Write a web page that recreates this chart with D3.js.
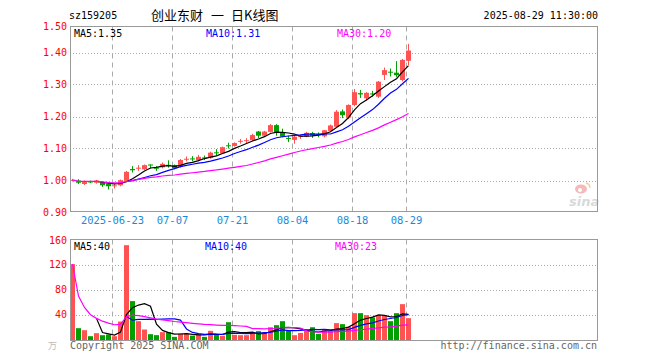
<!DOCTYPE html>
<html><head><meta charset="utf-8">
<script src="https://cdn.jsdelivr.net/npm/d3@7"></script>
<style>body{margin:0;background:#fff}svg{display:block}</style>
</head><body><svg id="c" width="660" height="360"></svg>
<script>
// ---------- data ----------
const dates = ["2025-06-12","2025-06-13","2025-06-16","2025-06-17","2025-06-18","2025-06-19","2025-06-20",
"2025-06-23","2025-06-24","2025-06-25","2025-06-26","2025-06-27","2025-06-30","2025-07-01","2025-07-02",
"2025-07-03","2025-07-04","2025-07-07","2025-07-08","2025-07-09","2025-07-10","2025-07-11","2025-07-14",
"2025-07-15","2025-07-16","2025-07-17","2025-07-18","2025-07-21","2025-07-22","2025-07-23","2025-07-24",
"2025-07-25","2025-07-28","2025-07-29","2025-07-30","2025-07-31","2025-08-01","2025-08-04","2025-08-05",
"2025-08-06","2025-08-07","2025-08-08","2025-08-11","2025-08-12","2025-08-13","2025-08-14","2025-08-15",
"2025-08-18","2025-08-19","2025-08-20","2025-08-21","2025-08-22","2025-08-25","2025-08-26","2025-08-27",
"2025-08-28","2025-08-29"];
const open  = [1.000,1.000,0.989,0.997,0.993,0.994,0.990,0.983,0.985,0.999,1.036,1.037,1.035,1.050,1.040,1.041,
1.049,1.048,1.043,1.066,1.069,1.064,1.072,1.071,1.088,1.085,1.110,1.108,1.122,1.124,1.126,1.153,1.140,1.152,
1.173,1.151,1.133,1.127,1.136,1.137,1.148,1.145,1.138,1.155,1.168,1.216,1.197,1.236,1.273,1.257,1.272,1.262,
1.330,1.340,1.337,1.314,1.374];
const high  = [1.005,1.004,1.000,1.000,1.002,0.997,0.995,0.990,1.003,1.030,1.045,1.048,1.050,1.050,1.045,1.056,
1.063,1.050,1.067,1.075,1.076,1.080,1.078,1.090,1.098,1.106,1.118,1.119,1.130,1.132,1.146,1.155,1.155,1.176,
1.176,1.162,1.140,1.139,1.143,1.152,1.152,1.150,1.158,1.175,1.220,1.222,1.238,1.286,1.283,1.276,1.280,1.311,
1.353,1.350,1.373,1.380,1.427];
const low   = [0.997,0.989,0.986,0.992,0.990,0.980,0.972,0.975,0.982,0.998,1.025,1.030,1.033,1.038,1.030,1.038,
1.040,1.035,1.040,1.060,1.060,1.060,1.064,1.068,1.078,1.083,1.100,1.106,1.115,1.117,1.123,1.132,1.138,1.150,
1.140,1.135,1.120,1.115,1.130,1.135,1.133,1.135,1.135,1.152,1.165,1.195,1.192,1.232,1.258,1.250,1.262,1.258,
1.314,1.325,1.324,1.310,1.361];
const close = [1.002,0.993,0.998,0.995,1.000,0.985,0.982,0.985,1.001,1.027,1.032,1.040,1.048,1.048,1.037,1.052,
1.046,1.038,1.064,1.068,1.067,1.074,1.070,1.087,1.086,1.104,1.108,1.117,1.124,1.126,1.142,1.140,1.153,1.173,
1.148,1.137,1.131,1.137,1.139,1.149,1.140,1.143,1.157,1.172,1.215,1.204,1.236,1.276,1.269,1.274,1.270,1.309,
1.345,1.337,1.329,1.377,1.406];
const volume = [121,19.5,16.3,6.8,11.6,8.4,9.5,6.8,30,151,62.4,30.6,17.4,10,8.5,13.2,13.2,5.8,10.9,10.9,7.7,10,
5.8,15.3,9,7.4,29,9,8.4,8.4,12,14.8,12,21,24.3,30.6,16.3,8.4,12,15.3,21,10.5,16.3,14.8,27.5,25.9,21.6,43.3,
43.3,40.2,36.5,40,39.6,30.6,43.3,57.6,35.4];
const priceTicks = [0.9,1.0,1.1,1.2,1.3,1.4,1.5];
const volTicks = [40,80,120,160];
const tickDates = ["2025-06-23","2025-07-07","2025-07-21","2025-08-04","2025-08-18","2025-08-29"];
const tickLabels = ["2025-06-23","07-07","07-21","08-04","08-18","08-29"];
const priceMaLabels = ["MA5:1.35","MA10:1.31","MA30:1.20"];
const volMaLabels = ["MA5:40","MA10:40","MA30:23"];

// ---------- setup ----------
const RED="#ff5252", GREEN="#00a000", GRID="#aaa", FRAME="#999";
const MONO="'DejaVu Sans Mono', 'Liberation Mono', monospace";
const svg = d3.select("#c");
const L=70, R=598, SLOTS=88;
const x = d3.scaleLinear().domain([0,SLOTS]).range([L,R]);
const y = d3.scaleLinear().domain([0.9,1.5]).range([212.5,20.5]);
const yv = d3.scaleLinear().domain([0,160]).range([340.5,239.5]);
const PT=26.5, PB=211.5, VT=239.5, VB=340.5;
const idx = d3.range(dates.length);
const tickIdx = tickDates.map(d=>dates.indexOf(d));

// header
svg.append("text").attr("x",69).attr("y",19).attr("font-family",MONO).attr("font-size",10).text("sz159205");
const cjk="'Noto Sans CJK SC', sans-serif";
svg.append("text").attr("x",151).attr("y",20).attr("font-family",cjk).attr("font-size",13).text("创业东财");
svg.append("text").attr("x",211).attr("y",20).attr("font-family",cjk).attr("font-size",13).text("一");
svg.append("text").attr("x",231).attr("y",20).attr("font-family",cjk).attr("font-size",13).text("日K线图");
svg.append("text").attr("x",598).attr("y",19).attr("text-anchor","end").attr("font-family",MONO).attr("font-size",10).text("2025-08-29 11:30:00");

function ma(arr,n,partial){
  return arr.map((v,i)=>{
    if(i<n-1 && !partial) return null;
    const s=arr.slice(Math.max(0,i-n+1),i+1);
    return d3.mean(s);
  });
}
const cx = i => x(i)+2.5;

// ---------- price panel ----------
const gp = svg.append("g");
// horizontal dotted grid
gp.selectAll("line.hg").data(priceTicks.filter(v=>v>0.9&&v<1.5)).join("line")
  .attr("x1",L).attr("x2",R).attr("y1",d=>Math.round(y(d))+0.5).attr("y2",d=>Math.round(y(d))+0.5)
  .attr("stroke",GRID).attr("stroke-dasharray","1,2");
// vertical dashed grid
gp.selectAll("line.vg").data(tickIdx).join("line")
  .attr("x1",d=>x(d)+0.5).attr("x2",d=>x(d)+0.5).attr("y1",PT).attr("y2",PB)
  .attr("stroke",GRID).attr("stroke-dasharray","5,4");
// sina watermark
const wm = gp.append("g").attr("opacity",0.55);
wm.append("ellipse").attr("cx",581).attr("cy",189).attr("rx",6).attr("ry",4.5).attr("fill","#f08080");
wm.append("circle").attr("cx",580).attr("cy",190).attr("r",2).attr("fill","#fff");
wm.append("path").attr("d","M586,183 q4,1 4,5").attr("stroke","#f4a040").attr("fill","none").attr("stroke-width",1.3);
wm.append("text").attr("x",569).attr("y",206).attr("font-family","'DejaVu Sans',sans-serif").attr("font-style","italic")
  .attr("font-weight","bold").attr("font-size",13).attr("fill","#bbb").text("sina");
// candles
const cg = gp.selectAll("g.c").data(idx).join("g");
cg.append("line").attr("x1",i=>cx(i)).attr("x2",i=>cx(i))
  .attr("y1",i=>y(high[i])).attr("y2",i=>y(low[i]))
  .attr("stroke",i=>close[i]>=open[i]?RED:GREEN);
cg.append("rect").attr("x",i=>x(i)).attr("width",5)
  .attr("y",i=>Math.min(y(open[i]),y(close[i])))
  .attr("height",i=>Math.max(1,Math.abs(y(open[i])-y(close[i]))))
  .attr("fill",i=>close[i]>=open[i]?RED:GREEN);
// MA lines
const lineP = d3.line().defined(d=>d[1]!=null).x(d=>cx(d[0])).y(d=>y(d[1]));
[[ma(close,5,false),"#000"],[ma(close,10,false),"#0000ff"],[ma(close,30,true),"#ff00ff"]].forEach(([m,c])=>{
  gp.append("path").datum(m.map((v,i)=>[i,v])).attr("d",lineP).attr("fill","none").attr("stroke",c).attr("stroke-width",1.2);
});
// frame
gp.append("rect").attr("x",L+0.5).attr("y",PT).attr("width",R-L-1).attr("height",PB-PT)
  .attr("fill","none").attr("stroke",FRAME);
// y axis labels
const ay = d3.axisLeft(y).tickValues(priceTicks).tickSize(0).tickPadding(0).tickFormat(d3.format(".2f"));
const ayg = svg.append("g").attr("transform",`translate(${L-3},0)`).call(ay);
ayg.select(".domain").remove();
ayg.selectAll(".tick").attr("transform",d=>`translate(0,${Math.max(y(d),PT)+0.5})`);
ayg.selectAll("text").attr("fill","#f00").attr("font-family",MONO).attr("font-size",10);
// x axis labels
const ax = d3.axisBottom(x).tickValues(tickIdx).tickSize(0).tickPadding(0).tickFormat((d,k)=>tickLabels[k]);
const axg = svg.append("g").attr("transform",`translate(0,${PB+5})`).call(ax);
axg.select(".domain").remove();
axg.selectAll("text").attr("fill","#1a8ad8").attr("font-family",MONO).attr("font-size",10.5);
// MA labels
[[74,"#000"],[206,"#0000ff"],[337,"#ff00ff"]].forEach(([xx,c],k)=>{
  svg.append("text").attr("x",xx).attr("y",37).attr("fill",c).attr("font-family",MONO).attr("font-size",10).text(priceMaLabels[k]);
});

// ---------- volume panel ----------
const gv = svg.append("g");
gv.selectAll("line.hg").data(volTicks.filter(v=>v<160)).join("line")
  .attr("x1",L).attr("x2",R).attr("y1",d=>Math.round(yv(d))+0.5).attr("y2",d=>Math.round(yv(d))+0.5)
  .attr("stroke",GRID).attr("stroke-dasharray","1,2");
gv.selectAll("line.vg").data(tickIdx).join("line")
  .attr("x1",d=>x(d)+0.5).attr("x2",d=>x(d)+0.5).attr("y1",VT).attr("y2",VB)
  .attr("stroke",GRID).attr("stroke-dasharray","5,4");
gv.selectAll("rect.v").data(idx).join("rect")
  .attr("x",i=>x(i)).attr("width",5).attr("y",i=>yv(volume[i])).attr("height",i=>yv(0)-yv(volume[i]))
  .attr("fill",i=>close[i]>=open[i]?RED:GREEN);
const lineV = d3.line().defined(d=>d[1]!=null).x(d=>cx(d[0])).y(d=>yv(d[1]));
[[ma(volume,5,false),"#000"],[ma(volume,10,false),"#0000ff"],[ma(volume,30,true),"#ff00ff"]].forEach(([m,c])=>{
  gv.append("path").datum(m.map((v,i)=>[i,v])).attr("d",lineV).attr("fill","none").attr("stroke",c).attr("stroke-width",1.2);
});
gv.append("rect").attr("x",L+0.5).attr("y",VT).attr("width",R-L-1).attr("height",VB-VT)
  .attr("fill","none").attr("stroke",FRAME);
const avy = d3.axisLeft(yv).tickValues(volTicks).tickSize(0).tickPadding(0).tickFormat(d3.format("d"));
const avg = svg.append("g").attr("transform",`translate(${L-3},0)`).call(avy);
avg.select(".domain").remove();
avg.selectAll(".tick").attr("transform",d=>`translate(0,${Math.max(yv(d),VT+1.5)})`);
avg.selectAll("text").attr("fill","#f00").attr("font-family",MONO).attr("font-size",10);
svg.append("text").attr("x",48).attr("y",349).attr("fill","#bbb").attr("font-family",cjk).attr("font-size",9).text("万");
[[74,"#000"],[205,"#0000ff"],[335,"#ff00ff"]].forEach(([xx,c],k)=>{
  svg.append("text").attr("x",xx).attr("y",250).attr("fill",c).attr("font-family",MONO).attr("font-size",10).text(volMaLabels[k]);
});
// footer
svg.append("text").attr("x",70).attr("y",349).attr("fill","#666").attr("font-family",MONO).attr("font-size",10).text("Copyright 2025 SINA.COM");
svg.append("text").attr("x",597).attr("y",349).attr("text-anchor","end").attr("fill","#666").attr("font-family",MONO).attr("font-size",10).text("http://finance.sina.com.cn");
</script></body></html>
